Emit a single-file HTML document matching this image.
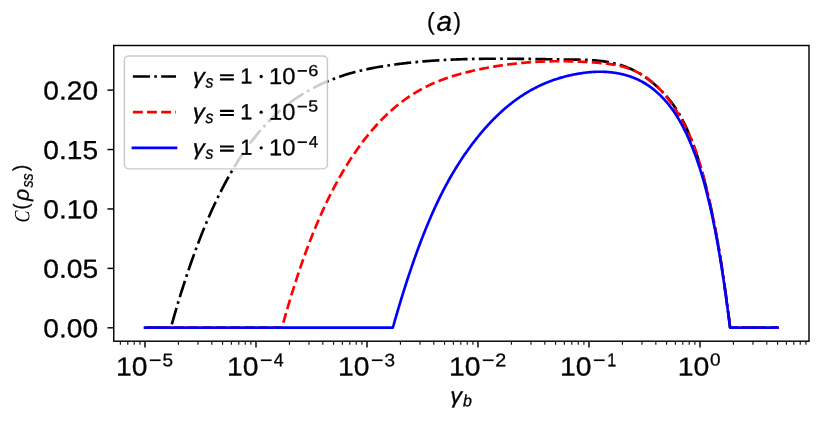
<!DOCTYPE html>
<html><head><meta charset="utf-8"><title>Concurrence plot</title>
<style>html,body{margin:0;padding:0;background:#fff;}body{width:822px;height:422px;overflow:hidden;font-family:"Liberation Sans",sans-serif;}svg{display:block;}text{stroke:#000;stroke-width:0.3px;}</style>
</head><body>
<svg width="822" height="422" viewBox="0 0 822 422">
<defs><clipPath id="ax"><rect x="113.75" y="45.5" width="695.25" height="295.70"/></clipPath></defs>
<rect width="822" height="422" fill="#fff"/>
<g clip-path="url(#ax)" fill="none" stroke-width="2.668">
<path d="M145.00,327.60 L170.80,327.60 L172.20,322.97 L173.60,318.03 L175.01,313.17 L176.41,308.38 L177.81,303.67 L179.21,299.04 L180.61,294.47 L182.01,289.98 L183.42,285.57 L184.82,281.22 L186.22,276.94 L187.62,272.74 L189.02,268.60 L190.42,264.53 L191.83,260.52 L193.23,256.59 L194.63,252.72 L196.03,248.91 L197.43,245.17 L198.84,241.49 L200.24,237.87 L201.64,234.31 L203.04,230.82 L204.44,227.38 L205.84,224.01 L207.25,220.69 L208.65,217.43 L210.05,214.23 L211.45,211.08 L212.85,207.98 L214.25,204.95 L215.66,201.96 L217.06,199.03 L218.46,196.15 L219.86,193.32 L221.26,190.54 L222.66,187.81 L224.07,185.13 L225.47,182.50 L226.87,179.91 L228.27,177.37 L229.67,174.88 L231.08,172.43 L232.48,170.02 L233.88,167.66 L235.28,165.34 L236.68,163.07 L238.08,160.83 L239.49,158.64 L240.89,156.48 L242.29,154.37 L243.69,152.30 L245.09,150.26 L246.49,148.27 L247.90,146.31 L249.30,144.39 L250.70,142.51 L252.10,140.66 L253.50,138.85 L254.91,137.08 L256.31,135.34 L257.71,133.63 L259.11,131.96 L260.51,130.32 L261.91,128.72 L263.32,127.14 L264.72,125.60 L266.12,124.09 L267.52,122.62 L268.92,121.17 L270.32,119.75 L271.73,118.36 L273.13,117.00 L274.53,115.67 L275.93,114.36 L277.33,113.09 L278.74,111.84 L280.14,110.61 L281.54,109.41 L282.94,108.24 L284.34,107.09 L285.74,105.97 L287.15,104.87 L288.55,103.79 L289.95,102.73 L291.35,101.70 L292.75,100.69 L294.15,99.70 L295.56,98.72 L296.96,97.77 L298.36,96.84 L299.76,95.93 L301.16,95.04 L302.56,94.16 L303.97,93.30 L305.37,92.46 L306.77,91.64 L308.17,90.83 L309.57,90.04 L310.98,89.26 L312.38,88.50 L313.78,87.76 L315.18,87.03 L316.58,86.32 L317.98,85.63 L319.39,84.95 L320.79,84.28 L322.19,83.63 L323.59,82.99 L324.99,82.37 L326.39,81.76 L327.80,81.16 L329.20,80.58 L330.60,80.01 L332.00,79.46 L333.40,78.92 L334.81,78.39 L336.21,77.87 L337.61,77.37 L339.01,76.87 L340.41,76.39 L341.81,75.92 L343.22,75.46 L344.62,75.02 L346.02,74.58 L347.42,74.15 L348.82,73.74 L350.22,73.33 L351.63,72.94 L353.03,72.55 L354.43,72.18 L355.83,71.81 L357.23,71.45 L358.64,71.11 L360.04,70.77 L361.44,70.44 L362.84,70.11 L364.24,69.80 L365.64,69.49 L367.05,69.19 L368.45,68.90 L369.85,68.62 L371.25,68.34 L372.65,68.07 L374.05,67.80 L375.46,67.55 L376.86,67.30 L378.26,67.05 L379.66,66.81 L381.06,66.57 L382.46,66.34 L383.87,66.12 L385.27,65.90 L386.67,65.68 L388.07,65.47 L389.47,65.27 L390.88,65.06 L392.28,64.86 L393.68,64.67 L395.08,64.48 L396.48,64.29 L397.88,64.11 L399.29,63.93 L400.69,63.75 L402.09,63.58 L403.49,63.41 L404.89,63.25 L406.29,63.09 L407.70,62.93 L409.10,62.78 L410.50,62.62 L411.90,62.48 L413.30,62.33 L414.71,62.19 L416.11,62.06 L417.51,61.92 L418.91,61.79 L420.31,61.67 L421.71,61.54 L423.12,61.42 L424.52,61.31 L425.92,61.19 L427.32,61.08 L428.72,60.98 L430.12,60.87 L431.53,60.77 L432.93,60.67 L434.33,60.57 L435.73,60.48 L437.13,60.39 L438.54,60.30 L439.94,60.22 L441.34,60.14 L442.74,60.06 L444.14,59.98 L445.54,59.91 L446.95,59.84 L448.35,59.77 L449.75,59.70 L451.15,59.64 L452.55,59.58 L453.95,59.52 L455.36,59.46 L456.76,59.41 L458.16,59.36 L459.56,59.31 L460.96,59.26 L462.36,59.21 L463.77,59.17 L465.17,59.13 L466.57,59.09 L467.97,59.06 L469.37,59.02 L470.78,58.99 L472.18,58.96 L473.58,58.93 L474.98,58.90 L476.38,58.88 L477.78,58.86 L479.19,58.83 L480.59,58.81 L481.99,58.80 L483.39,58.78 L484.79,58.77 L486.19,58.75 L487.60,58.74 L489.00,58.73 L490.40,58.72 L491.80,58.72 L493.20,58.71 L494.61,58.71 L496.01,58.71 L497.41,58.70 L498.81,58.70 L500.21,58.70 L501.61,58.71 L503.02,58.71 L504.42,58.72 L505.82,58.72 L507.22,58.73 L508.62,58.74 L510.02,58.74 L511.43,58.75 L512.83,58.77 L514.23,58.78 L515.63,58.79 L517.03,58.80 L518.44,58.82 L519.84,58.83 L521.24,58.85 L522.64,58.86 L524.04,58.88 L525.44,58.90 L526.85,58.92 L528.25,58.93 L529.65,58.95 L531.05,58.97 L532.45,58.99 L533.85,59.01 L535.26,59.03 L536.66,59.05 L538.06,59.08 L539.46,59.10 L540.86,59.12 L542.26,59.14 L543.67,59.16 L545.07,59.19 L546.47,59.21 L547.87,59.23 L549.27,59.25 L550.68,59.27 L552.08,59.30 L553.48,59.32 L554.88,59.34 L556.28,59.36 L557.68,59.38 L559.09,59.41 L560.49,59.43 L561.89,59.45 L563.29,59.47 L564.69,59.49 L566.09,59.51 L567.50,59.53 L568.90,59.54 L570.30,59.56 L571.70,59.58 L573.10,59.60 L574.51,59.62 L575.91,59.63 L577.31,59.66 L578.71,59.68 L580.11,59.71 L581.51,59.74 L582.92,59.78 L584.32,59.82 L585.72,59.87 L587.12,59.93 L588.52,59.99 L589.92,60.06 L591.33,60.14 L592.73,60.23 L594.13,60.33 L595.53,60.45 L596.93,60.57 L598.34,60.71 L599.74,60.85 L601.14,61.02 L602.54,61.19 L603.94,61.39 L605.34,61.60 L606.75,61.82 L608.15,62.06 L609.55,62.32 L610.95,62.60 L612.35,62.90 L613.75,63.22 L615.16,63.56 L616.56,63.91 L617.96,64.30 L619.36,64.70 L620.76,65.13 L622.16,65.58 L623.57,66.06 L624.97,66.56 L626.37,67.09 L627.77,67.64 L629.17,68.23 L630.58,68.84 L631.98,69.48 L633.38,70.15 L634.78,70.85 L636.18,71.58 L637.58,72.34 L638.99,73.13 L640.39,73.96 L641.79,74.82 L643.19,75.72 L644.59,76.65 L645.99,77.61 L647.40,78.61 L648.80,79.65 L650.20,80.73 L651.60,81.85 L653.00,83.00 L654.41,84.20 L655.81,85.43 L657.21,86.71 L658.61,88.03 L660.01,89.39 L661.41,90.80 L662.82,92.24 L664.22,93.74 L665.62,95.28 L667.02,96.88 L668.42,98.54 L669.82,100.26 L671.23,102.06 L672.63,103.94 L674.03,105.90 L675.43,107.95 L676.83,110.10 L678.24,112.35 L679.64,114.71 L681.04,117.18 L682.44,119.77 L683.84,122.49 L685.24,125.34 L686.65,128.33 L688.05,131.46 L689.45,134.74 L690.85,138.17 L692.25,141.77 L693.65,145.53 L695.06,149.47 L696.46,153.59 L697.86,157.89 L699.26,162.38 L700.66,167.07 L702.06,171.96 L703.47,177.06 L704.87,182.37 L706.27,187.91 L707.67,193.67 L709.07,199.66 L710.48,205.89 L711.88,212.36 L713.28,219.09 L714.68,226.09 L716.08,233.39 L717.48,241.00 L718.89,248.97 L720.29,257.30 L721.69,266.02 L723.09,275.15 L724.49,284.72 L725.89,294.75 L727.30,305.27 L728.70,316.29 L730.10,327.60 L777.60,327.60" stroke="#000" stroke-dasharray="17.075,4.269,2.668,4.269" stroke-dashoffset="27.3" stroke-linejoin="round"/>
<path d="M145.00,327.60 L281.80,327.60 L282.92,324.15 L284.05,320.14 L285.17,316.18 L286.29,312.26 L287.42,308.41 L288.54,304.60 L289.66,300.84 L290.79,297.13 L291.91,293.48 L293.04,289.87 L294.16,286.31 L295.28,282.79 L296.41,279.33 L297.53,275.91 L298.65,272.54 L299.78,269.22 L300.90,265.94 L302.02,262.70 L303.15,259.51 L304.27,256.37 L305.39,253.27 L306.52,250.21 L307.64,247.19 L308.77,244.22 L309.89,241.29 L311.01,238.40 L312.14,235.55 L313.26,232.74 L314.38,229.97 L315.51,227.24 L316.63,224.55 L317.75,221.90 L318.88,219.28 L320.00,216.71 L321.12,214.17 L322.25,211.66 L323.37,209.20 L324.50,206.76 L325.62,204.37 L326.74,202.01 L327.87,199.68 L328.99,197.38 L330.11,195.12 L331.24,192.89 L332.36,190.70 L333.48,188.53 L334.61,186.40 L335.73,184.29 L336.85,182.22 L337.98,180.18 L339.10,178.16 L340.23,176.18 L341.35,174.22 L342.47,172.29 L343.60,170.39 L344.72,168.52 L345.84,166.67 L346.97,164.85 L348.09,163.05 L349.21,161.28 L350.34,159.53 L351.46,157.81 L352.58,156.11 L353.71,154.43 L354.83,152.78 L355.95,151.15 L357.08,149.54 L358.20,147.95 L359.33,146.39 L360.45,144.85 L361.57,143.33 L362.70,141.83 L363.82,140.36 L364.94,138.90 L366.07,137.47 L367.19,136.06 L368.31,134.67 L369.44,133.30 L370.56,131.95 L371.68,130.62 L372.81,129.31 L373.93,128.02 L375.06,126.75 L376.18,125.50 L377.30,124.26 L378.43,123.05 L379.55,121.86 L380.67,120.68 L381.80,119.53 L382.92,118.39 L384.04,117.27 L385.17,116.17 L386.29,115.09 L387.41,114.02 L388.54,112.97 L389.66,111.94 L390.79,110.93 L391.91,109.93 L393.03,108.95 L394.16,107.99 L395.28,107.04 L396.40,106.11 L397.53,105.20 L398.65,104.30 L399.77,103.42 L400.90,102.55 L402.02,101.70 L403.14,100.86 L404.27,100.04 L405.39,99.23 L406.52,98.44 L407.64,97.66 L408.76,96.90 L409.89,96.15 L411.01,95.41 L412.13,94.69 L413.26,93.98 L414.38,93.28 L415.50,92.60 L416.63,91.93 L417.75,91.27 L418.87,90.63 L420.00,89.99 L421.12,89.37 L422.24,88.77 L423.37,88.17 L424.49,87.58 L425.62,87.01 L426.74,86.45 L427.86,85.90 L428.99,85.36 L430.11,84.83 L431.23,84.31 L432.36,83.80 L433.48,83.30 L434.60,82.81 L435.73,82.33 L436.85,81.86 L437.97,81.40 L439.10,80.95 L440.22,80.51 L441.35,80.08 L442.47,79.66 L443.59,79.24 L444.72,78.83 L445.84,78.43 L446.96,78.04 L448.09,77.66 L449.21,77.28 L450.33,76.91 L451.46,76.55 L452.58,76.20 L453.70,75.85 L454.83,75.51 L455.95,75.17 L457.08,74.85 L458.20,74.52 L459.32,74.21 L460.45,73.90 L461.57,73.59 L462.69,73.29 L463.82,73.00 L464.94,72.71 L466.06,72.42 L467.19,72.14 L468.31,71.87 L469.43,71.59 L470.56,71.33 L471.68,71.06 L472.81,70.80 L473.93,70.55 L475.05,70.29 L476.18,70.04 L477.30,69.80 L478.42,69.56 L479.55,69.32 L480.67,69.09 L481.79,68.86 L482.92,68.63 L484.04,68.41 L485.16,68.19 L486.29,67.97 L487.41,67.76 L488.53,67.55 L489.66,67.35 L490.78,67.15 L491.91,66.95 L493.03,66.75 L494.15,66.56 L495.28,66.38 L496.40,66.19 L497.52,66.01 L498.65,65.84 L499.77,65.66 L500.89,65.49 L502.02,65.33 L503.14,65.17 L504.26,65.01 L505.39,64.85 L506.51,64.70 L507.64,64.55 L508.76,64.41 L509.88,64.26 L511.01,64.13 L512.13,63.99 L513.25,63.86 L514.38,63.73 L515.50,63.61 L516.62,63.48 L517.75,63.37 L518.87,63.25 L519.99,63.14 L521.12,63.03 L522.24,62.92 L523.37,62.82 L524.49,62.72 L525.61,62.63 L526.74,62.54 L527.86,62.45 L528.98,62.36 L530.11,62.28 L531.23,62.20 L532.35,62.12 L533.48,62.05 L534.60,61.98 L535.72,61.91 L536.85,61.85 L537.97,61.79 L539.09,61.73 L540.22,61.68 L541.34,61.63 L542.47,61.58 L543.59,61.53 L544.71,61.49 L545.84,61.45 L546.96,61.42 L548.08,61.38 L549.21,61.35 L550.33,61.33 L551.45,61.30 L552.58,61.28 L553.70,61.26 L554.82,61.25 L555.95,61.24 L557.07,61.23 L558.20,61.22 L559.32,61.22 L560.44,61.22 L561.57,61.22 L562.69,61.23 L563.81,61.23 L564.94,61.25 L566.06,61.26 L567.18,61.28 L568.31,61.30 L569.43,61.32 L570.55,61.34 L571.68,61.37 L572.80,61.40 L573.93,61.44 L575.05,61.47 L576.17,61.51 L577.30,61.55 L578.42,61.60 L579.54,61.64 L580.67,61.69 L581.79,61.75 L582.91,61.80 L584.04,61.86 L585.16,61.92 L586.28,61.98 L587.41,62.05 L588.53,62.12 L589.66,62.19 L590.78,62.26 L591.90,62.34 L593.03,62.42 L594.15,62.50 L595.27,62.58 L596.40,62.67 L597.52,62.76 L598.64,62.85 L599.77,62.95 L600.89,63.05 L602.01,63.15 L603.14,63.26 L604.26,63.37 L605.38,63.49 L606.51,63.62 L607.63,63.76 L608.76,63.90 L609.88,64.06 L611.00,64.22 L612.13,64.39 L613.25,64.57 L614.37,64.77 L615.50,64.98 L616.62,65.19 L617.74,65.43 L618.87,65.67 L619.99,65.93 L621.11,66.21 L622.24,66.50 L623.36,66.80 L624.49,67.13 L625.61,67.47 L626.73,67.83 L627.86,68.20 L628.98,68.60 L630.10,69.02 L631.23,69.45 L632.35,69.91 L633.47,70.39 L634.60,70.89 L635.72,71.41 L636.84,71.96 L637.97,72.53 L639.09,73.13 L640.22,73.75 L641.34,74.40 L642.46,75.07 L643.59,75.77 L644.71,76.50 L645.83,77.25 L646.96,78.04 L648.08,78.85 L649.20,79.70 L650.33,80.57 L651.45,81.48 L652.57,82.42 L653.70,83.39 L654.82,84.39 L655.95,85.43 L657.07,86.50 L658.19,87.61 L659.32,88.75 L660.44,89.93 L661.56,91.14 L662.69,92.39 L663.81,93.68 L664.93,95.01 L666.06,96.38 L667.18,97.79 L668.30,99.23 L669.43,100.72 L670.55,102.25 L671.67,103.83 L672.80,105.44 L673.92,107.10 L675.05,108.80 L676.17,110.55 L677.29,112.34 L678.42,114.18 L679.54,116.06 L680.66,117.99 L681.79,119.97 L682.91,122.00 L684.03,124.08 L685.16,126.22 L686.28,128.42 L687.40,130.71 L688.53,133.08 L689.65,135.54 L690.78,138.10 L691.90,140.78 L693.02,143.57 L694.15,146.49 L695.27,149.54 L696.39,152.74 L697.52,156.09 L698.64,159.60 L699.76,163.28 L700.89,167.12 L702.01,171.13 L703.13,175.28 L704.26,179.57 L705.38,184.00 L706.51,188.56 L707.63,193.23 L708.75,198.02 L709.88,202.92 L711.00,207.93 L712.12,213.09 L713.25,218.42 L714.37,223.94 L715.49,229.67 L716.62,235.65 L717.74,241.88 L718.86,248.41 L719.99,255.24 L721.11,262.41 L722.24,269.93 L723.36,277.84 L724.48,286.06 L725.61,294.39 L726.73,302.60 L727.85,310.49 L728.98,317.88 L730.10,327.60 L777.60,327.60" stroke="#f00" stroke-dasharray="9.872,4.269" stroke-dashoffset="13.54" stroke-linejoin="round"/>
<path d="M145.00,327.60 L392.80,327.60 L393.65,324.83 L394.49,321.86 L395.34,318.92 L396.18,316.01 L397.03,313.11 L397.87,310.25 L398.72,307.40 L399.56,304.58 L400.41,301.78 L401.25,299.01 L402.10,296.26 L402.94,293.54 L403.79,290.84 L404.64,288.16 L405.48,285.51 L406.33,282.88 L407.17,280.27 L408.02,277.69 L408.86,275.13 L409.71,272.60 L410.55,270.09 L411.40,267.60 L412.24,265.13 L413.09,262.69 L413.93,260.27 L414.78,257.88 L415.62,255.51 L416.47,253.16 L417.32,250.83 L418.16,248.53 L419.01,246.25 L419.85,243.99 L420.70,241.76 L421.54,239.55 L422.39,237.36 L423.23,235.20 L424.08,233.05 L424.92,230.93 L425.77,228.84 L426.61,226.76 L427.46,224.71 L428.31,222.68 L429.15,220.68 L430.00,218.69 L430.84,216.73 L431.69,214.80 L432.53,212.88 L433.38,210.99 L434.22,209.11 L435.07,207.27 L435.91,205.44 L436.76,203.63 L437.60,201.85 L438.45,200.09 L439.29,198.35 L440.14,196.63 L440.99,194.93 L441.83,193.25 L442.68,191.59 L443.52,189.95 L444.37,188.33 L445.21,186.73 L446.06,185.15 L446.90,183.59 L447.75,182.04 L448.59,180.51 L449.44,179.01 L450.28,177.51 L451.13,176.04 L451.98,174.58 L452.82,173.14 L453.67,171.72 L454.51,170.31 L455.36,168.92 L456.20,167.55 L457.05,166.19 L457.89,164.84 L458.74,163.51 L459.58,162.19 L460.43,160.89 L461.27,159.61 L462.12,158.33 L462.97,157.07 L463.81,155.83 L464.66,154.59 L465.50,153.37 L466.35,152.16 L467.19,150.97 L468.04,149.78 L468.88,148.61 L469.73,147.45 L470.57,146.30 L471.42,145.16 L472.26,144.04 L473.11,142.92 L473.95,141.82 L474.80,140.72 L475.65,139.64 L476.49,138.57 L477.34,137.51 L478.18,136.46 L479.03,135.42 L479.87,134.39 L480.72,133.38 L481.56,132.37 L482.41,131.37 L483.25,130.39 L484.10,129.42 L484.94,128.45 L485.79,127.50 L486.64,126.55 L487.48,125.62 L488.33,124.70 L489.17,123.79 L490.02,122.88 L490.86,121.99 L491.71,121.11 L492.55,120.24 L493.40,119.37 L494.24,118.52 L495.09,117.68 L495.93,116.85 L496.78,116.02 L497.63,115.21 L498.47,114.41 L499.32,113.61 L500.16,112.83 L501.01,112.05 L501.85,111.28 L502.70,110.53 L503.54,109.78 L504.39,109.04 L505.23,108.31 L506.08,107.59 L506.92,106.88 L507.77,106.18 L508.61,105.49 L509.46,104.80 L510.31,104.13 L511.15,103.46 L512.00,102.80 L512.84,102.15 L513.69,101.51 L514.53,100.88 L515.38,100.26 L516.22,99.64 L517.07,99.03 L517.91,98.43 L518.76,97.84 L519.60,97.26 L520.45,96.69 L521.30,96.12 L522.14,95.56 L522.99,95.01 L523.83,94.47 L524.68,93.94 L525.52,93.41 L526.37,92.89 L527.21,92.38 L528.06,91.88 L528.90,91.38 L529.75,90.90 L530.59,90.42 L531.44,89.94 L532.28,89.48 L533.13,89.02 L533.98,88.57 L534.82,88.12 L535.67,87.69 L536.51,87.26 L537.36,86.84 L538.20,86.42 L539.05,86.01 L539.89,85.61 L540.74,85.21 L541.58,84.83 L542.43,84.45 L543.27,84.07 L544.12,83.70 L544.97,83.34 L545.81,82.99 L546.66,82.64 L547.50,82.30 L548.35,81.96 L549.19,81.63 L550.04,81.31 L550.88,80.99 L551.73,80.68 L552.57,80.37 L553.42,80.07 L554.26,79.78 L555.11,79.49 L555.96,79.21 L556.80,78.94 L557.65,78.67 L558.49,78.40 L559.34,78.15 L560.18,77.89 L561.03,77.64 L561.87,77.40 L562.72,77.17 L563.56,76.94 L564.41,76.71 L565.25,76.49 L566.10,76.27 L566.94,76.06 L567.79,75.86 L568.64,75.66 L569.48,75.46 L570.33,75.27 L571.17,75.09 L572.02,74.90 L572.86,74.73 L573.71,74.56 L574.55,74.39 L575.40,74.23 L576.24,74.07 L577.09,73.92 L577.93,73.77 L578.78,73.62 L579.63,73.48 L580.47,73.35 L581.32,73.22 L582.16,73.09 L583.01,72.97 L583.85,72.86 L584.70,72.75 L585.54,72.65 L586.39,72.55 L587.23,72.45 L588.08,72.36 L588.92,72.28 L589.77,72.20 L590.62,72.13 L591.46,72.06 L592.31,72.00 L593.15,71.95 L594.00,71.90 L594.84,71.86 L595.69,71.82 L596.53,71.79 L597.38,71.77 L598.22,71.75 L599.07,71.74 L599.91,71.73 L600.76,71.74 L601.60,71.75 L602.45,71.76 L603.30,71.78 L604.14,71.81 L604.99,71.85 L605.83,71.89 L606.68,71.94 L607.52,72.00 L608.37,72.06 L609.21,72.14 L610.06,72.22 L610.90,72.30 L611.75,72.40 L612.59,72.50 L613.44,72.61 L614.29,72.73 L615.13,72.86 L615.98,72.99 L616.82,73.13 L617.67,73.28 L618.51,73.44 L619.36,73.61 L620.20,73.78 L621.05,73.97 L621.89,74.16 L622.74,74.36 L623.58,74.57 L624.43,74.79 L625.27,75.01 L626.12,75.25 L626.97,75.50 L627.81,75.75 L628.66,76.01 L629.50,76.29 L630.35,76.57 L631.19,76.87 L632.04,77.17 L632.88,77.49 L633.73,77.82 L634.57,78.16 L635.42,78.51 L636.26,78.87 L637.11,79.25 L637.96,79.64 L638.80,80.04 L639.65,80.46 L640.49,80.88 L641.34,81.33 L642.18,81.78 L643.03,82.25 L643.87,82.74 L644.72,83.23 L645.56,83.75 L646.41,84.28 L647.25,84.82 L648.10,85.38 L648.95,85.96 L649.79,86.55 L650.64,87.16 L651.48,87.79 L652.33,88.43 L653.17,89.09 L654.02,89.77 L654.86,90.46 L655.71,91.18 L656.55,91.91 L657.40,92.66 L658.24,93.43 L659.09,94.22 L659.93,95.03 L660.78,95.86 L661.63,96.70 L662.47,97.57 L663.32,98.46 L664.16,99.37 L665.01,100.30 L665.85,101.26 L666.70,102.24 L667.54,103.24 L668.39,104.27 L669.23,105.33 L670.08,106.41 L670.92,107.53 L671.77,108.67 L672.62,109.84 L673.46,111.04 L674.31,112.27 L675.15,113.53 L676.00,114.83 L676.84,116.16 L677.69,117.53 L678.53,118.93 L679.38,120.36 L680.22,121.83 L681.07,123.34 L681.91,124.89 L682.76,126.48 L683.61,128.11 L684.45,129.78 L685.30,131.49 L686.14,133.24 L686.99,135.04 L687.83,136.88 L688.68,138.76 L689.52,140.70 L690.37,142.67 L691.21,144.70 L692.06,146.77 L692.90,148.89 L693.75,151.06 L694.59,153.29 L695.44,155.57 L696.29,157.90 L697.13,160.30 L697.98,162.75 L698.82,165.28 L699.67,167.87 L700.51,170.53 L701.36,173.26 L702.20,176.07 L703.05,178.96 L703.89,181.93 L704.74,184.98 L705.58,188.11 L706.43,191.34 L707.28,194.65 L708.12,198.06 L708.97,201.57 L709.81,205.17 L710.66,208.88 L711.50,212.69 L712.35,216.61 L713.19,220.63 L714.04,224.77 L714.88,229.02 L715.73,233.39 L716.57,237.88 L717.42,242.49 L718.26,247.22 L719.11,252.08 L719.96,257.08 L720.80,262.20 L721.65,267.46 L722.49,272.86 L723.34,278.40 L724.18,284.08 L725.03,289.91 L725.87,295.89 L726.72,302.02 L727.56,308.31 L728.41,314.75 L729.25,321.35 L730.10,327.60 L777.60,327.60" stroke="#00f" stroke-linecap="square" stroke-linejoin="round"/>
</g>
<rect x="113.75" y="45.5" width="695.25" height="295.70" fill="none" stroke="#000" stroke-width="1.43" stroke-linejoin="miter"/>
<line x1="145.00" y1="341.2" x2="145.00" y2="347.50" stroke="#000" stroke-width="1.43"/><line x1="178.41" y1="341.2" x2="178.41" y2="344.80" stroke="#000" stroke-width="1.07"/><line x1="197.96" y1="341.2" x2="197.96" y2="344.80" stroke="#000" stroke-width="1.07"/><line x1="211.83" y1="341.2" x2="211.83" y2="344.80" stroke="#000" stroke-width="1.07"/><line x1="222.59" y1="341.2" x2="222.59" y2="344.80" stroke="#000" stroke-width="1.07"/><line x1="231.37" y1="341.2" x2="231.37" y2="344.80" stroke="#000" stroke-width="1.07"/><line x1="238.81" y1="341.2" x2="238.81" y2="344.80" stroke="#000" stroke-width="1.07"/><line x1="245.24" y1="341.2" x2="245.24" y2="344.80" stroke="#000" stroke-width="1.07"/><line x1="250.92" y1="341.2" x2="250.92" y2="344.80" stroke="#000" stroke-width="1.07"/><line x1="256.00" y1="341.2" x2="256.00" y2="347.50" stroke="#000" stroke-width="1.43"/><line x1="289.41" y1="341.2" x2="289.41" y2="344.80" stroke="#000" stroke-width="1.07"/><line x1="308.96" y1="341.2" x2="308.96" y2="344.80" stroke="#000" stroke-width="1.07"/><line x1="322.83" y1="341.2" x2="322.83" y2="344.80" stroke="#000" stroke-width="1.07"/><line x1="333.59" y1="341.2" x2="333.59" y2="344.80" stroke="#000" stroke-width="1.07"/><line x1="342.37" y1="341.2" x2="342.37" y2="344.80" stroke="#000" stroke-width="1.07"/><line x1="349.81" y1="341.2" x2="349.81" y2="344.80" stroke="#000" stroke-width="1.07"/><line x1="356.24" y1="341.2" x2="356.24" y2="344.80" stroke="#000" stroke-width="1.07"/><line x1="361.92" y1="341.2" x2="361.92" y2="344.80" stroke="#000" stroke-width="1.07"/><line x1="367.00" y1="341.2" x2="367.00" y2="347.50" stroke="#000" stroke-width="1.43"/><line x1="400.41" y1="341.2" x2="400.41" y2="344.80" stroke="#000" stroke-width="1.07"/><line x1="419.96" y1="341.2" x2="419.96" y2="344.80" stroke="#000" stroke-width="1.07"/><line x1="433.83" y1="341.2" x2="433.83" y2="344.80" stroke="#000" stroke-width="1.07"/><line x1="444.59" y1="341.2" x2="444.59" y2="344.80" stroke="#000" stroke-width="1.07"/><line x1="453.37" y1="341.2" x2="453.37" y2="344.80" stroke="#000" stroke-width="1.07"/><line x1="460.81" y1="341.2" x2="460.81" y2="344.80" stroke="#000" stroke-width="1.07"/><line x1="467.24" y1="341.2" x2="467.24" y2="344.80" stroke="#000" stroke-width="1.07"/><line x1="472.92" y1="341.2" x2="472.92" y2="344.80" stroke="#000" stroke-width="1.07"/><line x1="478.00" y1="341.2" x2="478.00" y2="347.50" stroke="#000" stroke-width="1.43"/><line x1="511.41" y1="341.2" x2="511.41" y2="344.80" stroke="#000" stroke-width="1.07"/><line x1="530.96" y1="341.2" x2="530.96" y2="344.80" stroke="#000" stroke-width="1.07"/><line x1="544.83" y1="341.2" x2="544.83" y2="344.80" stroke="#000" stroke-width="1.07"/><line x1="555.59" y1="341.2" x2="555.59" y2="344.80" stroke="#000" stroke-width="1.07"/><line x1="564.37" y1="341.2" x2="564.37" y2="344.80" stroke="#000" stroke-width="1.07"/><line x1="571.81" y1="341.2" x2="571.81" y2="344.80" stroke="#000" stroke-width="1.07"/><line x1="578.24" y1="341.2" x2="578.24" y2="344.80" stroke="#000" stroke-width="1.07"/><line x1="583.92" y1="341.2" x2="583.92" y2="344.80" stroke="#000" stroke-width="1.07"/><line x1="589.00" y1="341.2" x2="589.00" y2="347.50" stroke="#000" stroke-width="1.43"/><line x1="622.41" y1="341.2" x2="622.41" y2="344.80" stroke="#000" stroke-width="1.07"/><line x1="641.96" y1="341.2" x2="641.96" y2="344.80" stroke="#000" stroke-width="1.07"/><line x1="655.83" y1="341.2" x2="655.83" y2="344.80" stroke="#000" stroke-width="1.07"/><line x1="666.59" y1="341.2" x2="666.59" y2="344.80" stroke="#000" stroke-width="1.07"/><line x1="675.37" y1="341.2" x2="675.37" y2="344.80" stroke="#000" stroke-width="1.07"/><line x1="682.81" y1="341.2" x2="682.81" y2="344.80" stroke="#000" stroke-width="1.07"/><line x1="689.24" y1="341.2" x2="689.24" y2="344.80" stroke="#000" stroke-width="1.07"/><line x1="694.92" y1="341.2" x2="694.92" y2="344.80" stroke="#000" stroke-width="1.07"/><line x1="700.00" y1="341.2" x2="700.00" y2="347.50" stroke="#000" stroke-width="1.43"/><line x1="733.41" y1="341.2" x2="733.41" y2="344.80" stroke="#000" stroke-width="1.07"/><line x1="752.96" y1="341.2" x2="752.96" y2="344.80" stroke="#000" stroke-width="1.07"/><line x1="766.83" y1="341.2" x2="766.83" y2="344.80" stroke="#000" stroke-width="1.07"/><line x1="777.59" y1="341.2" x2="777.59" y2="344.80" stroke="#000" stroke-width="1.07"/><line x1="786.37" y1="341.2" x2="786.37" y2="344.80" stroke="#000" stroke-width="1.07"/><line x1="793.81" y1="341.2" x2="793.81" y2="344.80" stroke="#000" stroke-width="1.07"/><line x1="800.24" y1="341.2" x2="800.24" y2="344.80" stroke="#000" stroke-width="1.07"/><line x1="805.92" y1="341.2" x2="805.92" y2="344.80" stroke="#000" stroke-width="1.07"/><line x1="120.37" y1="341.2" x2="120.37" y2="344.80" stroke="#000" stroke-width="1.07"/><line x1="127.81" y1="341.2" x2="127.81" y2="344.80" stroke="#000" stroke-width="1.07"/><line x1="134.24" y1="341.2" x2="134.24" y2="344.80" stroke="#000" stroke-width="1.07"/><line x1="139.92" y1="341.2" x2="139.92" y2="344.80" stroke="#000" stroke-width="1.07"/><line x1="107.45" y1="327.80" x2="113.75" y2="327.80" stroke="#000" stroke-width="1.43"/><line x1="107.45" y1="268.38" x2="113.75" y2="268.38" stroke="#000" stroke-width="1.43"/><line x1="107.45" y1="208.95" x2="113.75" y2="208.95" stroke="#000" stroke-width="1.43"/><line x1="107.45" y1="149.53" x2="113.75" y2="149.53" stroke="#000" stroke-width="1.43"/><line x1="107.45" y1="90.10" x2="113.75" y2="90.10" stroke="#000" stroke-width="1.43"/>
<g fill="#000">
<rect x="124.4" y="56.0" width="203.0" height="112.85" rx="4.3" ry="4.3" fill="#fff" fill-opacity="0.8" stroke="#bdbdbd" stroke-opacity="0.8" stroke-width="1.43"/><line x1="132.9" y1="76.5" x2="176.0" y2="76.5" stroke="#000" stroke-width="2.668" stroke-dasharray="17.08,4.27,2.67,4.27"/><rect x="220.0" y="74.15" width="13.9" height="2.1" rx="0.5" fill="#000"/><rect x="220.0" y="78.30" width="13.9" height="2.1" rx="0.5" fill="#000"/><circle cx="261.2" cy="76.50" r="1.65" fill="#000"/><rect x="297.6" y="70.05" width="9.3" height="1.7" fill="#000"/><line x1="132.9" y1="112.2" x2="176.0" y2="112.2" stroke="#f00" stroke-width="2.668" stroke-dasharray="9.87,4.27"/><rect x="220.0" y="109.85" width="13.9" height="2.1" rx="0.5" fill="#000"/><rect x="220.0" y="114.00" width="13.9" height="2.1" rx="0.5" fill="#000"/><circle cx="261.2" cy="112.20" r="1.65" fill="#000"/><rect x="297.6" y="105.75" width="9.3" height="1.7" fill="#000"/><line x1="132.9" y1="147.8" x2="176.0" y2="147.8" stroke="#00f" stroke-width="2.668" stroke-linecap="square"/><rect x="220.0" y="145.45" width="13.9" height="2.1" rx="0.5" fill="#000"/><rect x="220.0" y="149.60" width="13.9" height="2.1" rx="0.5" fill="#000"/><circle cx="261.2" cy="147.80" r="1.65" fill="#000"/><rect x="297.6" y="141.35" width="9.3" height="1.7" fill="#000"/>
</g>
<g font-family="'Liberation Sans', sans-serif" fill="#000" opacity="0.999">
<text transform="translate(43.35,337.20) rotate(0.05) scale(1.0805,1)" font-size="26.06">0.00</text><text transform="translate(43.35,277.77) rotate(0.05) scale(1.0805,1)" font-size="26.06">0.05</text><text transform="translate(43.35,218.35) rotate(0.05) scale(1.0805,1)" font-size="26.06">0.10</text><text transform="translate(43.35,158.92) rotate(0.05) scale(1.0805,1)" font-size="26.06">0.15</text><text transform="translate(43.35,99.50) rotate(0.05) scale(1.0805,1)" font-size="26.06">0.20</text><text transform="translate(116.00,375.39) rotate(0.05) scale(1.0824,1)" font-size="26.13" style="">10</text><rect x="149.80" y="359.4" width="10.8" height="1.7" fill="#000"/><text transform="translate(162.39,366.17) rotate(0.05) scale(1.0348,1)" font-size="18.34" style="">5</text><text transform="translate(227.00,375.39) rotate(0.05) scale(1.0824,1)" font-size="26.13" style="">10</text><rect x="260.80" y="359.4" width="10.8" height="1.7" fill="#000"/><text transform="translate(273.74,366.35) rotate(0.05) scale(0.9600,1)" font-size="18.60" style="">4</text><text transform="translate(338.00,375.39) rotate(0.05) scale(1.0824,1)" font-size="26.13" style="">10</text><rect x="371.80" y="359.4" width="10.8" height="1.7" fill="#000"/><text transform="translate(384.43,366.17) rotate(0.05) scale(1.0500,1)" font-size="18.08" style="">3</text><text transform="translate(449.00,375.39) rotate(0.05) scale(1.0824,1)" font-size="26.13" style="">10</text><rect x="482.80" y="359.4" width="10.8" height="1.7" fill="#000"/><text transform="translate(495.16,366.35) rotate(0.05) scale(1.0777,1)" font-size="18.33" style="">2</text><text transform="translate(560.00,375.39) rotate(0.05) scale(1.0824,1)" font-size="26.13" style="">10</text><rect x="593.80" y="359.4" width="10.8" height="1.7" fill="#000"/><text transform="translate(607.21,366.35) rotate(0.05) scale(0.8726,1)" font-size="18.60" style="">1</text><text transform="translate(677.79,375.40) rotate(0.05) scale(1.0921,1)" font-size="25.99" style="">10</text><text transform="translate(710.01,365.58) rotate(0.05) scale(1.0782,1)" font-size="17.66" style="">0</text><text transform="translate(427.02,29.46) rotate(0.05) scale(0.9548,1)" font-size="24.10" style="">(</text><text transform="translate(436.52,30.68) rotate(0.05) scale(1.0102,1)" font-size="27.74" style="font-style:italic;">a</text><text transform="translate(453.42,29.46) rotate(0.05) scale(0.9235,1)" font-size="24.10" style="">)</text><text transform="translate(450.18,402.96) rotate(0.05) scale(1.0611,1)" font-size="22.17" style="font-style:italic;">γ</text><text transform="translate(463.12,406.29) rotate(0.05) scale(0.9898,1)" font-size="16.20" style="font-style:italic;">b</text><text stroke-width="0" transform="rotate(-90) translate(-222.55,29.15) rotate(0.05) scale(0.8225,1)" font-size="21.75" style="stroke-width:0;font-style:italic;font-family:'Liberation Serif',serif;">C</text><text transform="rotate(-90) translate(-209.55,27.39) rotate(0.05) scale(0.8832,1)" font-size="20.07" style="">(</text><text transform="rotate(-90) translate(-201.03,28.87) rotate(0.05) scale(0.9893,1)" font-size="21.59" style="font-style:italic;">ρ</text><text transform="rotate(-90) translate(-187.58,32.79) rotate(0.05) scale(0.8734,1)" font-size="16.29" style="font-style:italic;">ss</text><text transform="rotate(-90) translate(-171.06,27.35) rotate(0.05) scale(0.9110,1)" font-size="20.29" style="">)</text>
<text transform="translate(192.79,83.42) rotate(0.05) scale(1.1067,1)" font-size="21.89" style="font-style:italic;">γ</text><text transform="translate(205.51,87.38) rotate(0.05) scale(0.9067,1)" font-size="17.57" style="font-style:italic;">s</text><text transform="translate(240.29,83.55) rotate(0.05) scale(0.9933,1)" font-size="21.95" style="">1</text><text transform="translate(268.94,83.93) rotate(0.05) scale(1.0325,1)" font-size="23.02" style="">10</text><text transform="translate(308.13,75.90) rotate(0.05) scale(1.1508,1)" font-size="15.82" style="">6</text><text transform="translate(192.79,119.12) rotate(0.05) scale(1.1067,1)" font-size="21.89" style="font-style:italic;">γ</text><text transform="translate(205.51,123.08) rotate(0.05) scale(0.9067,1)" font-size="17.57" style="font-style:italic;">s</text><text transform="translate(240.29,119.25) rotate(0.05) scale(0.9933,1)" font-size="21.95" style="">1</text><text transform="translate(268.94,119.63) rotate(0.05) scale(1.0325,1)" font-size="23.02" style="">10</text><text transform="translate(308.34,111.59) rotate(0.05) scale(1.1038,1)" font-size="16.05" style="">5</text><text transform="translate(192.79,154.72) rotate(0.05) scale(1.1067,1)" font-size="21.89" style="font-style:italic;">γ</text><text transform="translate(205.51,158.68) rotate(0.05) scale(0.9067,1)" font-size="17.57" style="font-style:italic;">s</text><text transform="translate(240.29,154.85) rotate(0.05) scale(0.9933,1)" font-size="21.95" style="">1</text><text transform="translate(268.94,155.23) rotate(0.05) scale(1.0325,1)" font-size="23.02" style="">10</text><text transform="translate(308.67,147.35) rotate(0.05) scale(1.0240,1)" font-size="16.28" style="">4</text>
</g>
</svg>
</body></html>
